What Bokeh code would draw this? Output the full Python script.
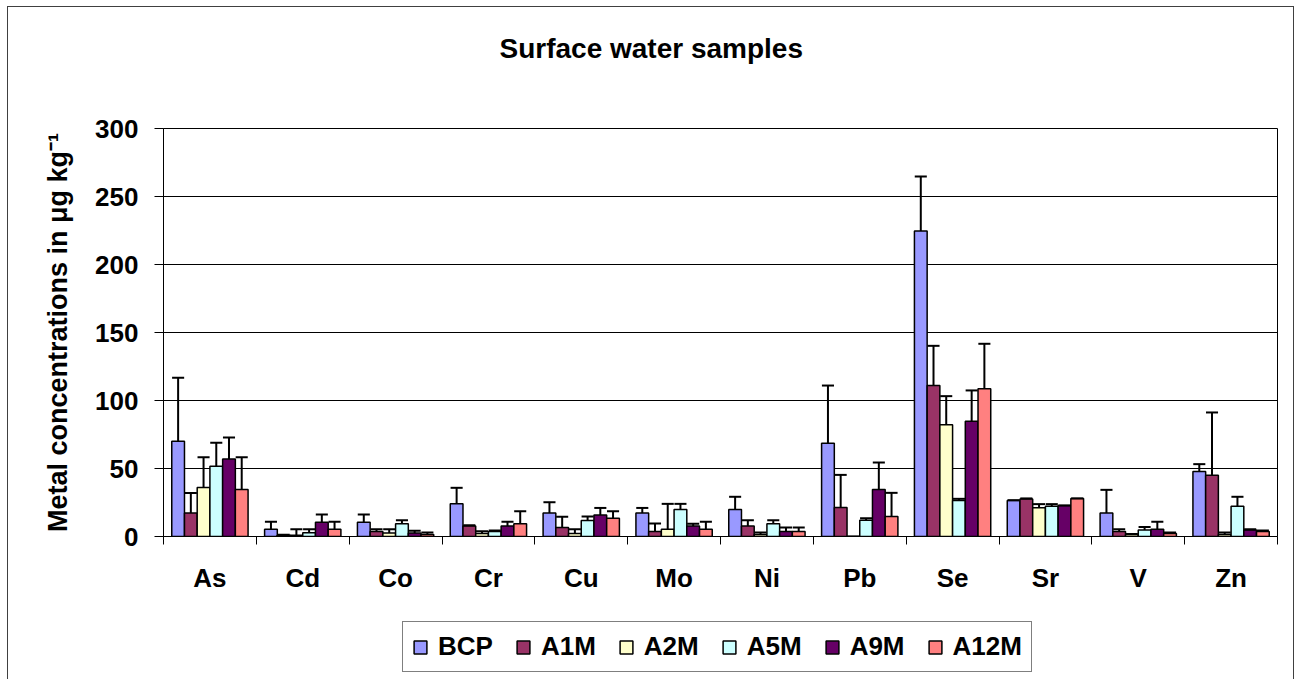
from bokeh.plotting import figure
from bokeh.layouts import column
from bokeh.models import (ColumnDataSource, Range1d, FixedTicker, Legend, LegendItem, Title)
from bokeh.transform import dodge
from bokeh.embed import file_html
from bokeh.resources import INLINE

# ---------------- data ----------------
elements = ["As", "Cd", "Co", "Cr", "Cu", "Mo", "Ni", "Pb", "Se", "Sr", "V", "Zn"]
series_names = ["BCP", "A1M", "A2M", "A5M", "A9M", "A12M"]

BCP = [70.0, 5.4, 10.5, 24.0, 17.2, 17.2, 19.9, 68.6, 224.7, 26.5, 17.2, 47.8]
BCP_err = [46.7, 5.4, 5.7, 11.8, 8.0, 3.8, 9.3, 42.4, 40.0, 0.2, 17.1, 5.4]

A1M = [17.2, 1.0, 3.7, 7.8, 6.6, 3.7, 7.8, 21.3, 111.0, 27.5, 3.7, 45.1]
A1M_err = [14.7, 0.3, 1.7, 0.5, 7.9, 5.9, 4.2, 24.0, 29.2, 0.5, 1.7, 46.1]

A2M = [36.0, 1.0, 2.5, 2.2, 2.2, 5.4, 1.5, 0.0, 82.1, 21.1, 1.5, 1.5]
A2M_err = [22.3, 4.4, 2.9, 1.7, 3.2, 18.6, 1.5, 0.0, 21.1, 2.7, 0.3, 1.5]

A5M = [51.7, 2.7, 9.3, 3.7, 11.8, 19.9, 9.3, 12.0, 26.5, 22.3, 4.7, 22.3]
A5M_err = [17.2, 2.7, 2.7, 0.7, 2.9, 4.1, 2.7, 1.5, 1.2, 1.5, 2.2, 6.9]

A9M = [56.9, 10.5, 2.5, 7.8, 15.9, 7.8, 3.7, 34.5, 84.8, 22.8, 5.4, 4.7]
A9M_err = [15.9, 5.7, 1.8, 3.0, 5.1, 1.5, 2.9, 19.9, 22.6, 0.0, 5.4, 0.7]

A12M = [34.5, 5.4, 1.5, 9.3, 13.5, 5.4, 3.7, 14.7, 108.6, 28.0, 2.2, 3.7]
A12M_err = [23.8, 5.4, 1.5, 9.3, 5.1, 5.4, 2.9, 17.4, 33.1, 0.0, 0.8, 0.7]

yticks = [0, 50, 100, 150, 200, 250, 300]
title_text = "Surface water samples"
y_label = "Metal concentrations in \u03bcg kg\u207b\u00b9"

values = [BCP, A1M, A2M, A5M, A9M, A12M]
errors = [BCP_err, A1M_err, A2M_err, A5M_err, A9M_err, A12M_err]
colors = ["#9999FF", "#993366", "#FFFFCC", "#CCFFFF", "#660066", "#FF8080"]

FONT = "Liberation Sans"

# category slots: centre of slot k is k + 0.5, boundaries at integers
ncat = len(elements)
centres = [k + 0.5 for k in range(ncat)]
bounds = list(range(ncat + 1))

# ---------------- main figure ----------------
p = figure(title=None, x_range=Range1d(0, ncat), y_range=Range1d(0, 300),
           width=1285, height=612,
           min_border_left=155, min_border_right=16,
           min_border_top=121, min_border_bottom=83,
           output_backend="svg", toolbar_location=None,
           background_fill_color="white", border_fill_color="white")

# invisible (white) spacer next to the frame, then the real title above it
p.add_layout(Title(text=".", text_font_size="10px", text_color="white",
                   standoff=55), "above")
p.add_layout(Title(text=title_text, text_font=FONT, text_font_size="28px",
                   text_font_style="bold", text_color="black",
                   align="left", offset=336, standoff=0), "above")

p.outline_line_color = "black"
p.outline_line_width = 1

# y axis
yax = p.yaxis[0]
yax.ticker = FixedTicker(ticks=yticks)
yax.major_tick_out = 9
yax.major_tick_in = 0
yax.minor_tick_out = 0
yax.minor_tick_in = 0
yax.major_label_standoff = 16
yax.major_label_text_font = FONT
yax.major_label_text_font_size = "26px"
yax.major_label_text_font_style = "bold"
yax.major_label_text_color = "black"
yax.axis_line_color = "black"
yax.major_tick_line_color = "black"
yax.axis_label = y_label
yax.axis_label_text_font = FONT
yax.axis_label_text_font_size = "27px"
yax.axis_label_text_font_style = "bold"
yax.axis_label_text_color = "black"
yax.axis_label_standoff = 19

p.ygrid.ticker = FixedTicker(ticks=yticks)
p.ygrid.grid_line_color = "black"
p.ygrid.grid_line_width = 1
p.xgrid.visible = False

# x axis: labels at slot centres, tick marks at slot boundaries (minor ticks)
xax = p.xaxis[0]
xax.ticker = FixedTicker(ticks=centres, minor_ticks=bounds)
xax.major_label_overrides = {c: el for c, el in zip(centres, elements)}
xax.major_tick_out = 0
xax.major_tick_in = 0
xax.minor_tick_out = 8
xax.minor_tick_in = 0
xax.minor_tick_line_color = "black"
xax.axis_line_color = "black"
xax.major_label_standoff = 18
xax.major_label_text_font = FONT
xax.major_label_text_font_size = "26px"
xax.major_label_text_font_style = "bold"
xax.major_label_text_color = "black"

# ---------------- bars + error bars ----------------
n = len(series_names)
bw = 0.137
cap = 0.065
src_data = {"element": elements, "slot": centres}
for name, v, e in zip(series_names, values, errors):
    src_data[name] = v
    src_data[name + "_up"] = [a + b for a, b in zip(v, e)]
source = ColumnDataSource(src_data)

for i, (name, col) in enumerate(zip(series_names, colors)):
    off = (i - (n - 1) / 2) * bw
    p.vbar(x=dodge("slot", off), top=name, width=bw,
           source=source, fill_color=col, line_color="black", line_width=1.5)

for i, name in enumerate(series_names):
    off = (i - (n - 1) / 2) * bw
    p.segment(x0=dodge("slot", off), y0=name,
              x1=dodge("slot", off), y1=name + "_up",
              source=source, line_color="black", line_width=2)
    p.segment(x0=dodge("slot", off - cap), y0=name + "_up",
              x1=dodge("slot", off + cap), y1=name + "_up",
              source=source, line_color="black", line_width=2)

# ---------------- legend strip ----------------
# the same bars, shrunk by wide ranges into a tiny spot hidden under the legend box
lf = figure(title=None, width=1285, height=60,
            x_range=Range1d(-400, 400), y_range=Range1d(-500, 500),
            min_border=0, x_axis_location=None, y_axis_location=None,
            output_backend="svg", toolbar_location=None,
            background_fill_color="white", border_fill_color="white")
lf.outline_line_color = None
lf.grid.visible = False

items = []
for i, (name, col) in enumerate(zip(series_names, colors)):
    off = (i - (n - 1) / 2) * bw
    r = lf.vbar(x=dodge("slot", off), top=name, width=bw, source=source,
                fill_color=col, line_color="black", line_width=1.5)
    items.append(LegendItem(label=name, renderers=[r]))

legend = Legend(items=items, location=(239, 7), orientation="horizontal",
                glyph_width=16, glyph_height=16, label_standoff=10, spacing=22,
                padding=9, margin=0,
                label_text_font=FONT, label_text_font_size="26px",
                label_text_font_style="bold", label_text_color="black",
                border_line_color="black", border_line_width=1,
                background_fill_color="white", background_fill_alpha=1)
lf.add_layout(legend)

layout = column(p, lf, spacing=0)
layout.styles = {"margin-left": "7px", "margin-top": "6px",
                 "border-top": "1px solid #404040",
                 "border-left": "1px solid #404040",
                 "border-right": "1px solid #404040"}
open("out.html", "w").write(file_html(layout, INLINE))
